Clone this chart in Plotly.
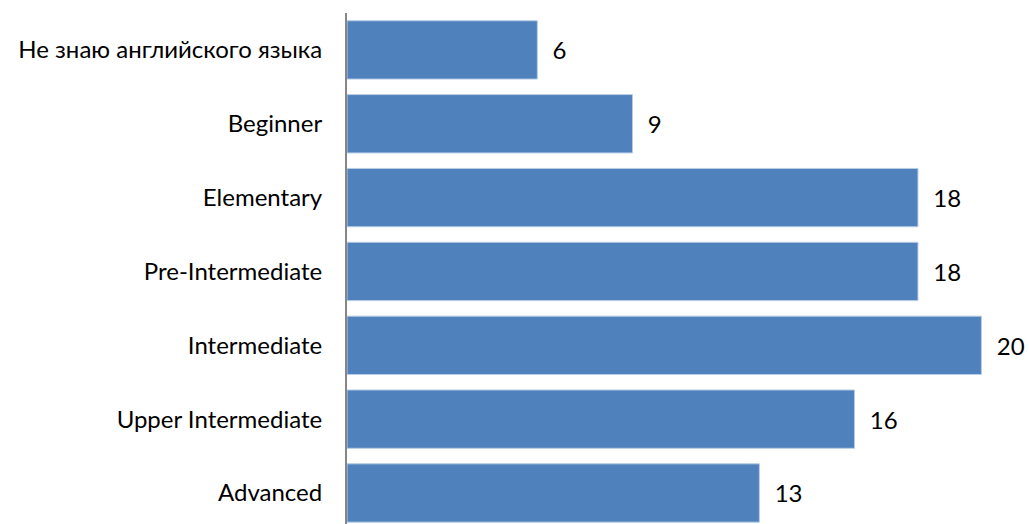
import plotly.graph_objects as go

categories = ["Не знаю английского языка", "Beginner", "Elementary", "Pre-Intermediate",
              "Intermediate", "Upper Intermediate", "Advanced"]
values = [6, 9, 18, 18, 20, 16, 13]

FONT = "Lato"
FS = 24

fig = go.Figure(go.Bar(
    x=values,
    y=categories,
    orientation="h",
    marker=dict(color="#4F81BD", line=dict(color="#B9CDE5", width=1)),
    width=0.79,
    text=[str(v) for v in values],
    textposition="outside",
    texttemplate="  %{text}",
    textfont=dict(family=FONT, size=FS, color="#000000"),
    cliponaxis=False,
))

fig.update_layout(
    width=1029, height=524,
    margin=dict(l=347, r=0, t=13, b=0, autoexpand=False),
    paper_bgcolor="white", plot_bgcolor="white",
    showlegend=False,
    bargap=0.21,
    font=dict(family=FONT, size=FS, color="#000000"),
    xaxis=dict(range=[0, 21.5], visible=False, showgrid=False, zeroline=False,
               automargin=False),
    yaxis=dict(
        type="category",
        categoryorder="array", categoryarray=categories,
        range=[6.42, -0.5],
        automargin=False,
        showline=True, linecolor="#868686", linewidth=2,
        ticks="", ticklabelstandoff=18,
        showgrid=False, zeroline=False,
        tickfont=dict(family=FONT, size=FS, color="#000000"),
    ),
)

fig.write_html(
    "out.html",
    config={"displayModeBar": False},
    post_script="document.body.style.margin='0';document.body.style.overflow='hidden';",
)
